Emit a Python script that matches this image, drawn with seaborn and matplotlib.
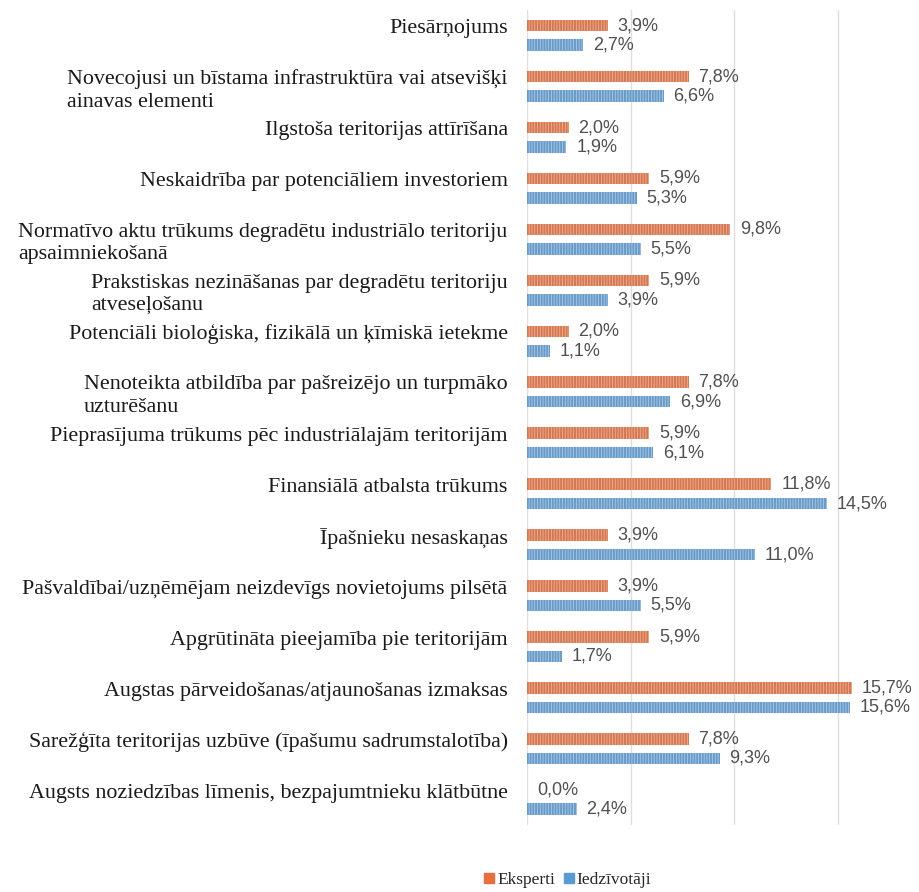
import matplotlib.pyplot as plt
import matplotlib.lines as mlines
import matplotlib.transforms as mtransforms
import seaborn as sns
import pandas as pd

categories = [
    "Piesārņojums",
    "Novecojusi un bīstama infrastruktūra vai atsevišķi\nainavas elementi",
    "Ilgstoša teritorijas attīrīšana",
    "Neskaidrība par potenciāliem investoriem",
    "Normatīvo aktu trūkums degradētu industriālo teritoriju\napsaimniekošanā",
    "Prakstiskas nezināšanas par degradētu teritoriju\natveseļošanu",
    "Potenciāli bioloģiska, fizikālā un ķīmiskā ietekme",
    "Nenoteikta atbildība par pašreizējo un turpmāko\nuzturēšanu",
    "Pieprasījuma trūkums pēc industriālajām teritorijām",
    "Finansiālā atbalsta trūkums",
    "Īpašnieku nesaskaņas",
    "Pašvaldībai/uzņēmējam neizdevīgs novietojums pilsētā",
    "Apgrūtināta pieejamība pie teritorijām",
    "Augstas pārveidošanas/atjaunošanas izmaksas",
    "Sarežģīta teritorijas uzbūve (īpašumu sadrumstalotība)",
    "Augsts noziedzības līmenis, bezpajumtnieku klātbūtne",
]
eksperti = [3.9, 7.8, 2.0, 5.9, 9.8, 5.9, 2.0, 7.8, 5.9, 11.8, 3.9, 3.9, 5.9, 15.7, 7.8, 0.0]
iedzivotaji = [2.7, 6.6, 1.9, 5.3, 5.5, 3.9, 1.1, 6.9, 6.1, 14.5, 11.0, 5.5, 1.7, 15.6, 9.3, 2.4]
series = ["Eksperti", "Iedzīvotāji"]
colors = ["#E8703F", "#5B9BD5"]

df = pd.DataFrame({"cat": categories * 2,
                   "val": eksperti + iedzivotaji,
                   "grp": [series[0]] * len(categories) + [series[1]] * len(categories)})

sns.set_style("white")
serif = ["Liberation Serif", "DejaVu Serif"]
narrow = ["Liberation Sans Narrow", "Liberation Sans", "DejaVu Sans"]
plt.rcParams["hatch.linewidth"] = 0.6

fig = plt.figure(figsize=(9.2, 8.92), dpi=100)
ax = fig.add_axes([0.573, 0.075, 0.405, 0.914])

sns.barplot(data=df, y="cat", x="val", hue="grp", palette=colors,
            width=0.76, gap=0.4, orient="h", legend=False, ax=ax,
            linewidth=0, hatch="||||||")
label_shift = mtransforms.ScaledTranslation(0, -3 / 100, fig.dpi_scale_trans)
for cont, ec in zip(ax.containers, ["#F4AE8F", "#A9CBEC"]):
    for p in cont:
        p.set_edgecolor(ec)
        p.set_linewidth(0)
    vals = [p.get_width() for p in cont]
    texts = ax.bar_label(cont, labels=[f"{v:.1f}%".replace(".", ",") for v in vals],
                         padding=7, fontsize=13, color="#505050", family=narrow)
    for t in texts:
        t.set_transform(t.get_transform() + label_shift)

ax.set_xlim(0, 18)
ax.set_ylim(15.5, -0.5)
ax.set_xticks([0, 5, 10, 15])
ax.set_xticklabels([])
ax.grid(axis="x", color="#dedede", linewidth=1)
ax.set_axisbelow(True)
for s in ax.spines.values():
    s.set_visible(False)
ax.tick_params(axis="both", length=0)
ax.set_xlabel("")
ax.set_ylabel("")
ax.set_yticks(range(len(categories)))
ax.set_yticklabels(categories, family=serif, fontsize=15.8, color="#1a1a1a",
                   linespacing=1.25)
ax.tick_params(axis="y", pad=14)
# single-line labels sit level with the orange bar
up = mtransforms.ScaledTranslation(0, 9 / 100, fig.dpi_scale_trans)
for t in ax.get_yticklabels():
    t.set_multialignment("left")
    if "\n" not in t.get_text():
        t.set_transform(t.get_transform() + up)

handles = [mlines.Line2D([], [], marker="s", linestyle="", markersize=7, color=c) for c in colors]
fig.legend(handles, series, loc="center", bbox_to_anchor=(0.616, 0.0135), ncol=2,
           frameon=False, prop={"family": serif, "size": 12.5}, handletextpad=0.05,
           handlelength=0.8, columnspacing=0.4)

fig.savefig("out.png", dpi=100)
